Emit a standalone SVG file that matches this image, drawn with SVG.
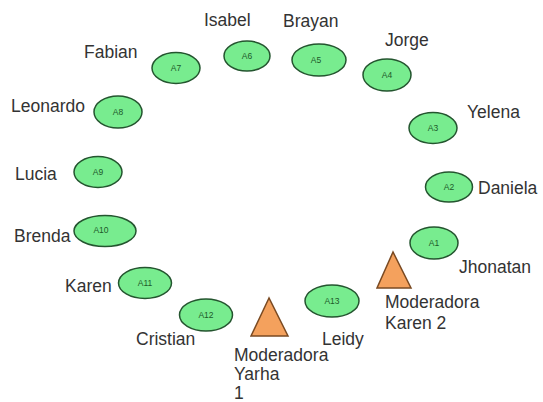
<svg xmlns="http://www.w3.org/2000/svg" width="543" height="402" viewBox="0 0 543 402">
<style>
.n{fill:#78ec8f;stroke:#24552f;stroke-width:1.5}
.id{font-family:"Liberation Sans",Arial,sans-serif;font-size:8.5px;fill:#1d5a2a;text-anchor:middle}
.lb{font-family:"Liberation Sans",Arial,sans-serif;font-size:17.5px;fill:#333333}
.t{fill:#f4a15d;stroke:#7a4a22;stroke-width:1.5;stroke-linejoin:miter}
</style>
<rect width="543" height="402" fill="#ffffff"/>
<g id="A1"><ellipse class="n" cx="434" cy="243" rx="24" ry="16"/><text class="id" x="434" y="246">A1</text><text class="lb" x="459" y="273">Jhonatan</text></g>
<g id="A2"><ellipse class="n" cx="449" cy="187" rx="23.5" ry="15"/><text class="id" x="449" y="190">A2</text><text class="lb" x="478" y="194">Daniela</text></g>
<g id="A3"><ellipse class="n" cx="433" cy="128" rx="24" ry="15.5"/><text class="id" x="433" y="131">A3</text><text class="lb" x="467" y="118">Yelena</text></g>
<g id="A4"><ellipse class="n" cx="387" cy="75" rx="24" ry="16"/><text class="id" x="387" y="78">A4</text><text class="lb" x="385" y="46">Jorge</text></g>
<g id="A5"><ellipse class="n" cx="319" cy="60" rx="27" ry="16"/><text class="id" x="316" y="63">A5</text><text class="lb" x="283" y="27">Brayan</text></g>
<g id="A6"><ellipse class="n" cx="247" cy="56" rx="23" ry="15"/><text class="id" x="247" y="59">A6</text><text class="lb" x="204" y="26">Isabel</text></g>
<g id="A7"><ellipse class="n" cx="176" cy="68" rx="24" ry="15.5"/><text class="id" x="176" y="71">A7</text><text class="lb" x="84" y="58">Fabian</text></g>
<g id="A8"><ellipse class="n" cx="118" cy="112" rx="24" ry="16"/><text class="id" x="118" y="115">A8</text><text class="lb" x="11" y="112">Leonardo</text></g>
<g id="A9"><ellipse class="n" cx="98" cy="172" rx="24" ry="15.5"/><text class="id" x="98" y="175">A9</text><text class="lb" x="15" y="180">Lucia</text></g>
<g id="A10"><ellipse class="n" cx="105" cy="231" rx="31" ry="15.5"/><text class="id" x="101" y="233">A10</text><text class="lb" x="14" y="242">Brenda</text></g>
<g id="A11"><ellipse class="n" cx="145" cy="283" rx="26.5" ry="15.5"/><text class="id" x="145" y="286">A11</text><text class="lb" x="65" y="292">Karen</text></g>
<g id="A12"><ellipse class="n" cx="206" cy="315" rx="26.5" ry="16"/><text class="id" x="206" y="318">A12</text><text class="lb" x="136" y="345">Cristian</text></g>
<g id="A13"><ellipse class="n" cx="332" cy="301" rx="27" ry="16"/><text class="id" x="332" y="304">A13</text><text class="lb" x="322" y="345">Leidy</text></g>
<g id="M2"><polygon class="t" points="393,252 377,288 411,288"/><text class="lb" x="385" y="308">Moderadora</text><text class="lb" x="385" y="329">Karen 2</text></g>
<g id="M1"><polygon class="t" points="269,298 251,336 288,336"/><text class="lb" x="234" y="361">Moderadora</text><text class="lb" x="234" y="380">Yarha</text><text class="lb" x="234" y="399">1</text></g>
</svg>
